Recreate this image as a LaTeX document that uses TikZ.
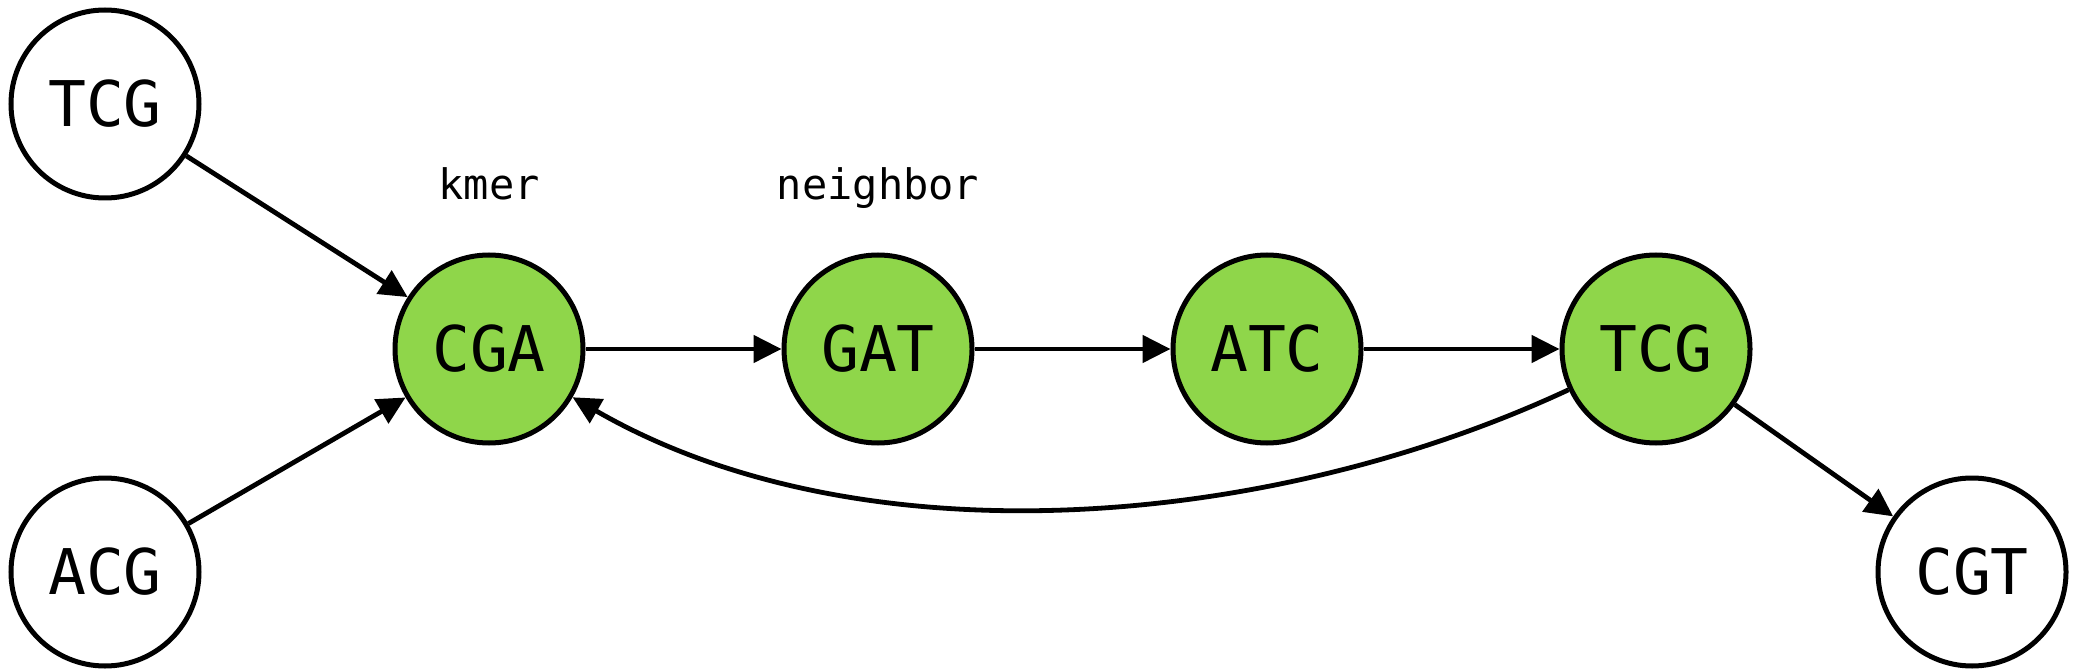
\documentclass[tikz,border=0pt]{standalone}
\usepackage{fontspec}
\newfontfamily\monofont{DejaVu Sans Mono}
\usetikzlibrary{arrows.meta}
\definecolor{kmergreen}{RGB}{143,214,74}

\begin{document}
\begin{tikzpicture}[>={Triangle[length=14pt,width=13.5pt]}, x=0.5pt, y=0.5pt,
    base/.style={circle, draw, line width=2.5pt, minimum size=94pt, inner sep=0pt,
        font=\monofont\fontsize{31.5}{32}\selectfont},
    kmernode/.style={base, fill=kmergreen},
    tag/.style={anchor=base, font=\monofont\fontsize{21}{24}\selectfont},
    link/.style={->, line width=2.4pt}]

    \useasboundingbox (0,0) rectangle (2075,670);

    \node[base] (tcgin) at (105,566) {TCG};
    \node[base] (acg) at (105,98) {ACG};

    \node[kmernode] (cga) at (489,321) {CGA};
    \node[kmernode] (gat) at (878,321) {GAT};
    \node[kmernode] (atc) at (1267,321) {ATC};
    \node[kmernode] (tcg) at (1656,321) {TCG};

    \node[base] (cgt) at (1972,98) {CGT};

    \node[tag] (kmer) at (489,470) {kmer};
    \node[tag] (nbr) at (878,470) {neighbor};

    \draw[link] (tcgin) -- (cga);
    \draw[link] (acg) -- (cga);
    \draw[link] (cga) -- (gat);
    \draw[link] (gat) -- (atc);
    \draw[link] (atc) -- (tcg);
    \draw[link] (tcg) -- (cgt);
    
    % back edge
    \draw[link] (tcg) to[out=205, in=-30, looseness=0.85] (cga);

\end{tikzpicture}
\end{document}
